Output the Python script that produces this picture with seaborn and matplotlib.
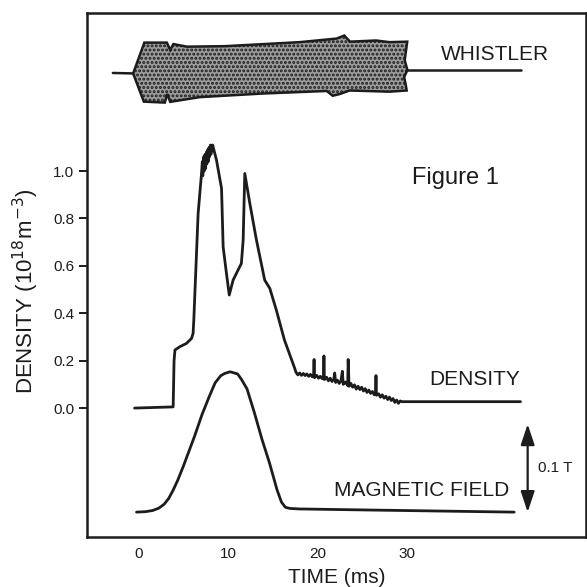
import numpy as np
import pandas as pd
import matplotlib
matplotlib.use("Agg")
import matplotlib.pyplot as plt
import seaborn as sns

# ---------------- data ----------------
# density trace (time in ms, density in 1e18 m^-3)
density_t = [-0.4, 3.9, 4.0, 4.1, 4.65, 5.39, 5.95, 6.12, 6.2, 6.68, 7.06,
             7.15, 7.2, 7.3, 7.35, 7.45, 7.5, 7.6, 7.65, 7.75, 7.8, 7.9, 7.95, 8.05, 8.1, 8.3,
             8.73, 9.29, 9.47, 9.84, 10.15, 10.58, 11.1, 11.5, 11.7, 11.88, 12.44, 13.18,
             14.1, 14.67, 15.4, 16.3, 17.45,
             17.6, 17.8, 18.0, 18.2, 18.4, 18.6, 18.8, 19.0, 19.2, 19.4, 19.55, 19.6, 19.65,
             19.9, 20.1, 20.3, 20.5, 20.65, 20.7, 20.75, 21.0, 21.2, 21.4, 21.6, 21.8, 21.9,
             22.0, 22.2, 22.4, 22.6, 22.75, 22.85, 23.1, 23.35, 23.4, 23.5, 23.7, 23.9, 24.1,
             24.3, 24.5, 24.7, 24.9, 25.1, 25.3, 25.5, 25.7, 25.9, 26.1, 26.3, 26.45, 26.5,
             26.55, 26.8, 27.0, 27.2, 27.4, 27.6, 27.8, 28.0, 28.2, 28.4, 28.6, 28.8, 29.0,
             29.2, 29.4, 42.6]
density_v = [0.0, 0.005, 0.20, 0.245, 0.259, 0.273, 0.294, 0.315, 0.371, 0.82, 0.99,
             1.04, 0.98, 1.06, 1.00, 1.07, 1.01, 1.08, 1.03, 1.09, 1.04, 1.10, 1.06, 1.11, 1.07, 1.11,
             1.046, 0.927, 0.68, 0.568, 0.477, 0.54, 0.58, 0.61, 0.709, 0.99, 0.864, 0.709,
             0.54, 0.505, 0.413, 0.287, 0.167,
             0.150, 0.140, 0.148, 0.138, 0.146, 0.137, 0.144, 0.134, 0.142, 0.132, 0.140, 0.205, 0.128,
             0.138, 0.126, 0.134, 0.124, 0.130, 0.220, 0.120, 0.130, 0.115, 0.126, 0.112, 0.122, 0.148,
             0.108, 0.118, 0.104, 0.115, 0.155, 0.100, 0.110, 0.095, 0.205, 0.092, 0.104, 0.088, 0.098,
             0.080, 0.092, 0.078, 0.088, 0.072, 0.082, 0.066, 0.076, 0.062, 0.070, 0.056, 0.066, 0.137,
             0.054, 0.060, 0.046, 0.056, 0.042, 0.050, 0.036, 0.046, 0.032, 0.040, 0.024, 0.034, 0.020,
             0.030, 0.027, 0.027]

# magnetic field trace (time in ms, field in T above its baseline)
field_t = [-0.18, 0.8, 1.6, 2.3, 2.9, 3.4, 3.9, 4.4, 5.03, 6.29, 7.12, 7.95, 8.58, 9.2, 9.65,
           10.25, 11.08, 11.5, 12.13, 12.95, 13.8, 14.63, 15.46, 15.96, 16.4, 16.9, 17.96,
           26.3, 41.9]
field_v = [0.0, 0.0005, 0.0018, 0.0045, 0.009, 0.0155, 0.025, 0.036, 0.052, 0.0864, 0.111,
           0.132, 0.147, 0.155, 0.1576, 0.1595, 0.157, 0.151, 0.140, 0.113, 0.0826, 0.056,
           0.0258, 0.0115, 0.0055, 0.0042, 0.0036, 0.0023, 0.0]
field_offset = -0.439      # baseline position of the field trace (density units)
field_scale = 3.713        # density units per tesla (0.1 T scale bar)
field_bar = 0.1            # T

# whistler envelope outline (time in ms, vertical position in density units)
whistler_t = [-0.56, 0.69, 3.20, 3.57, 3.92, 5.42, 9.65, 18.0, 22.1, 22.97, 23.6, 26.5, 28.0,
              29.98, 29.7, 30.0, 29.64, 29.8, 29.92, 28.0, 23.56, 22.46, 21.68, 21.0, 13.78,
              6.87, 3.57, 3.25, 2.97, 0.63]
whistler_v = [1.412, 1.542, 1.542, 1.511, 1.536, 1.525, 1.527, 1.544, 1.559, 1.572, 1.546,
              1.551, 1.544, 1.546, 1.468, 1.426, 1.397, 1.367, 1.340, 1.335, 1.340, 1.325,
              1.318, 1.338, 1.327, 1.312, 1.292, 1.325, 1.289, 1.293]
whistler_left_t = [-2.82, -0.56]
whistler_left_v = [1.414, 1.412]
whistler_right_t = [29.9, 42.7]
whistler_right_v = [1.426, 1.426]

x_ticks = [0, 10, 20, 30]
y_ticks = [0.0, 0.2, 0.4, 0.6, 0.8, 1.0]
y_tick_labels = ["0.0", "0.2", "0.4", "0.6", "0.8", "1.0"]

# ---------------- plot ----------------
sns.set_theme(style="white")
plt.rcParams["font.family"] = ["Liberation Sans", "DejaVu Sans"]
plt.rcParams["hatch.linewidth"] = 1.4

ink = "#1c1c1c"
fig = plt.figure(figsize=(5.87, 5.87), dpi=100)
ax = fig.add_axes([87 / 587, 1 - 537 / 587, 499 / 587, 524 / 587])

dens_df = pd.DataFrame({"t": density_t, "v": density_v})
sns.lineplot(data=dens_df, x="t", y="v", ax=ax, color=ink, lw=2.0, sort=False, estimator=None)

field_df = pd.DataFrame({"t": field_t,
                         "v": [field_offset + b * field_scale for b in field_v]})
sns.lineplot(data=field_df, x="t", y="v", ax=ax, color=ink, lw=2.0, sort=False, estimator=None)

ax.fill(whistler_t, whistler_v, facecolor="#9c9c9c", edgecolor=ink, hatch="....", lw=1.8)
ax.plot(whistler_left_t, whistler_left_v, color=ink, lw=1.8)
ax.plot(whistler_right_t, whistler_right_v, color=ink, lw=1.8)

# scale bar
ax.annotate("", xy=(43.4, field_offset + field_bar * field_scale),
            xytext=(43.4, field_offset),
            arrowprops=dict(arrowstyle="<|-|>,head_length=0.9,head_width=0.3", color=ink, lw=1.6,
                            mutation_scale=14, shrinkA=0, shrinkB=0))
ax.text(44.6, -0.253, "0.1 T", fontsize=11, color=ink, ha="left", va="center")

ax.text(45.8, 1.49, "WHISTLER", fontsize=15, color=ink, ha="right", va="center")
ax.text(42.6, 0.122, "DENSITY", fontsize=15, color=ink, ha="right", va="center")
ax.text(41.3, -0.346, "MAGNETIC FIELD", fontsize=15, color=ink, ha="right", va="center")
ax.text(30.5, 0.97, "Figure 1", fontsize=17, color=ink, ha="left", va="center")

ax.set_xlim(-5.7, 49.9)
ax.set_ylim(-0.544, 1.667)
ax.set_xticks(x_ticks)
ax.set_yticks(y_ticks)
ax.set_yticklabels(y_tick_labels)
ax.tick_params(axis="x", length=0, pad=7, labelsize=11, colors=ink)
ax.tick_params(axis="y", length=6, width=1.4, pad=3, labelsize=11, colors=ink, left=True)
ax.set_xlabel("TIME (ms)", fontsize=15, color=ink, labelpad=5)
ax.set_ylabel(r"DENSITY (10$^{18}$m$^{-3}$)", fontsize=16, color=ink)
ax.yaxis.set_label_coords(-0.092, 0.47)
for s in ax.spines.values():
    s.set_visible(True)
    s.set_color(ink)
    s.set_linewidth(1.8)

fig.savefig("out.png", dpi=100, facecolor="white")
